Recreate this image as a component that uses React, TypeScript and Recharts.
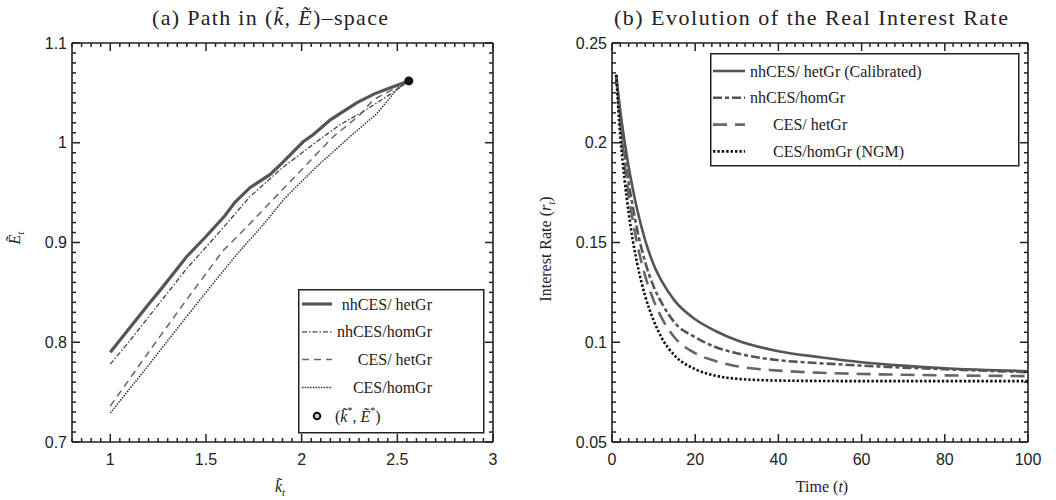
import { ComposedChart, LineChart, Line, Scatter, XAxis, YAxis, ReferenceLine } from 'recharts';

// ---- panel (a): path in (k, E) space ----
const solidK = [1, 1.1, 1.2, 1.26, 1.4, 1.5, 1.6, 1.65, 1.73, 1.834, 1.9, 2.008, 2.06, 2.15, 2.287, 2.38, 2.461, 2.56];
const solidE = [0.79, 0.814, 0.838, 0.852, 0.886, 0.906, 0.927, 0.94, 0.955, 0.968, 0.98, 1.001, 1.008, 1.023, 1.04, 1.049, 1.055, 1.062];

const dashDotK = [1, 1.1, 1.26, 1.4, 1.55, 1.73, 1.9, 2.078, 2.2, 2.32, 2.45, 2.56];
const dashDotE = [0.778, 0.801, 0.84, 0.874, 0.906, 0.946, 0.975, 1.001, 1.018, 1.031, 1.047, 1.062];

const dashedK = [1, 1.2, 1.4, 1.59, 1.7, 1.8, 1.96, 2.165, 2.305, 2.374, 2.56];
const dashedE = [0.736, 0.79, 0.843, 0.892, 0.913, 0.933, 0.965, 1.006, 1.028, 1.043, 1.062];

const dottedK = [1, 1.2, 1.4, 1.55, 1.67, 1.8, 1.91, 2.078, 2.252, 2.392, 2.496, 2.56];
const dottedE = [0.729, 0.777, 0.826, 0.862, 0.89, 0.918, 0.944, 0.976, 1.006, 1.029, 1.053, 1.062];

const steadyK = [2.56];
const steadyE = [1.062];

const kTicks = [1, 1.5, 2, 2.5, 3];
const eTicks = [0.7, 0.8, 0.9, 1, 1.1];

// ---- panel (b): real interest rate ----
const time = [1, 2, 3, 4, 5, 6, 8, 10, 12, 15, 20, 25, 30, 40, 50, 60, 70, 80, 90, 100];
const rHetGr = [0.234, 0.216, 0.201, 0.188, 0.177, 0.167, 0.151, 0.139, 0.1305, 0.121, 0.1115, 0.1055, 0.101, 0.0955, 0.0925, 0.09, 0.0883, 0.087, 0.0861, 0.0855];
const rHomGr = [0.234, 0.213, 0.195, 0.18, 0.168, 0.157, 0.14, 0.128, 0.1195, 0.11, 0.1025, 0.0975, 0.0945, 0.091, 0.0895, 0.0883, 0.0873, 0.0865, 0.0857, 0.085];
const rCesHet = [0.234, 0.21, 0.19, 0.174, 0.161, 0.15, 0.133, 0.121, 0.112, 0.1025, 0.0945, 0.0905, 0.088, 0.0858, 0.0847, 0.0841, 0.0837, 0.0834, 0.0832, 0.083];
const rNgm = [0.234, 0.203, 0.182, 0.165, 0.151, 0.14, 0.123, 0.111, 0.102, 0.0935, 0.0865, 0.0832, 0.0817, 0.0808, 0.0806, 0.0805, 0.0805, 0.0805, 0.0805, 0.0805];

const tTicks = [0, 20, 40, 60, 80, 100];
const rTicks = [0.05, 0.1, 0.15, 0.2, 0.25];

const zip = (xs: number[], ys: number[]) => xs.map((k, i) => ({ k, E: ys[i] }));

const solidData = zip(solidK, solidE);
const dashDotData = zip(dashDotK, dashDotE);
const dashedData = zip(dashedK, dashedE);
const dottedData = zip(dottedK, dottedE);
const steadyData = zip(steadyK, steadyE);

const rateRows = time.map((t, i) => ({ t, het: rHetGr[i], hom: rHomGr[i], ces: rCesHet[i], ngm: rNgm[i] }));

// minor tick positions between the labelled ones
const minor = (from: number, to: number, step: number) => {
  const out: number[] = [];
  for (let i = 0; from + i * step <= to + 1e-9; i++) out.push(+(from + i * step).toFixed(4));
  return out;
};

const AX = '#222';
const TICK_FONT = { fontFamily: '"Liberation Sans", Arial, sans-serif', fontSize: 16, fill: '#222' };
const SERIF = '"Liberation Serif", "Times New Roman", serif';

const isMajor = (majors: number[], v: number) => majors.some((m) => Math.abs(m - v) < 1e-6);

// ticks point inwards and are mirrored on the opposite side of the frame
function xTick(majors: number[], top: number) {
  return (props: any) => {
    const { x, y, payload } = props;
    const major = isMajor(majors, payload.value);
    const len = major ? 8 : 4;
    return (
      <g>
        <line x1={x} x2={x} y1={y} y2={y - len} stroke={AX} strokeWidth={1.5} />
        <line x1={x} x2={x} y1={top} y2={top + len} stroke={AX} strokeWidth={1.5} />
        {major && (
          <text x={x} y={y + 23} textAnchor="middle" {...TICK_FONT}>
            {payload.value}
          </text>
        )}
      </g>
    );
  };
}

function yTick(majors: number[], right: number) {
  return (props: any) => {
    const { x, y, payload } = props;
    const major = isMajor(majors, payload.value);
    const len = major ? 8 : 4;
    return (
      <g>
        <line x1={x} x2={x + len} y1={y} y2={y} stroke={AX} strokeWidth={1.5} />
        <line x1={right} x2={right - len} y1={y} y2={y} stroke={AX} strokeWidth={1.5} />
        {major && (
          <text x={x - 5} y={y} textAnchor="end" dominantBaseline="central" {...TICK_FONT}>
            {payload.value}
          </text>
        )}
      </g>
    );
  };
}

const leftStyles = [
  { label: 'nhCES/ hetGr', stroke: '#555', width: 3.2, dash: undefined as string | undefined },
  { label: 'nhCES/homGr', stroke: '#444', width: 1.3, dash: '5 2 1.5 2' },
  { label: 'CES/ hetGr', stroke: '#666', width: 1.5, dash: '7 5' },
  { label: 'CES/homGr', stroke: '#333', width: 1.5, dash: '1.5 1.2' },
];

const rightStyles = [
  { label: 'nhCES/ hetGr (Calibrated)', stroke: '#555', width: 2.6, dash: undefined as string | undefined, indent: 0 },
  { label: 'nhCES/homGr', stroke: '#555', width: 2.6, dash: '9 3 4 3', indent: 0 },
  { label: 'CES/ hetGr', stroke: '#666', width: 2.6, dash: '14 8', indent: 23 },
  { label: 'CES/homGr (NGM)', stroke: '#111', width: 2.6, dash: '2.4 2', indent: 23 },
];

const abs = (l: number, t: number): React.CSSProperties => ({ position: 'absolute', left: l, top: t });

export default function App() {
  return (
    <div style={abs(0, 0)}>
      {/* titles and axis labels */}
      <svg style={abs(0, 0)} width={1056} height={500}>
        <rect width={1056} height={500} fill="#fff" />
        <text x={152} y={25} fontFamily={SERIF} fontSize={22} fill="#222" textLength={236} lengthAdjust="spacing">
          (a) Path in (<tspan fontStyle="italic">k̃</tspan>, <tspan fontStyle="italic">Ẽ</tspan>)–space
        </text>
        <text x={614} y={25} fontFamily={SERIF} fontSize={22} fill="#222" textLength={394} lengthAdjust="spacing">
          (b) Evolution of the Real Interest Rate
        </text>
        <text transform="translate(20,238) rotate(-90)" textAnchor="middle" fontFamily={SERIF} fontSize={16} fontStyle="italic" fill="#222">
          Ẽ<tspan fontSize={11} dy={4}>t</tspan>
        </text>
        <text x={280} y={492} textAnchor="middle" fontFamily={SERIF} fontSize={16} fontStyle="italic" fill="#222">
          k̃<tspan fontSize={11} dy={4}>t</tspan>
        </text>
        <text transform="translate(551,249) rotate(-90)" textAnchor="middle" fontFamily={SERIF} fontSize={16} fill="#222">
          Interest Rate (<tspan fontStyle="italic">r</tspan><tspan fontSize={11} dy={4} fontStyle="italic">t</tspan><tspan dy={-4}>)</tspan>
        </text>
        <text x={822} y={492} textAnchor="middle" fontFamily={SERIF} fontSize={16} fill="#222">
          Time (<tspan fontStyle="italic">t</tspan>)
        </text>
      </svg>

      {/* panel (a) */}
      <div style={abs(0, 0)}>
        <ComposedChart width={528} height={500} margin={{ top: 43, right: 35, bottom: 28, left: 32 }}>
          <XAxis
            type="number"
            dataKey="k"
            domain={[0.8, 3]}
            ticks={minor(0.8, 3, 0.05)}
            interval={0}
            tickSize={0}
            tickMargin={0}
            tickLine={false}
            tick={xTick(kTicks, 43)}
            axisLine={{ stroke: AX, strokeWidth: 1.6 }}
            height={30}
            allowDataOverflow
          />
          <YAxis
            type="number"
            dataKey="E"
            domain={[0.7, 1.1]}
            ticks={minor(0.7, 1.1, 0.01)}
            interval={0}
            tickSize={0}
            tickMargin={0}
            tickLine={false}
            tick={yTick(eTicks, 493)}
            axisLine={{ stroke: AX, strokeWidth: 1.6 }}
            width={40}
            allowDataOverflow
          />
          <ReferenceLine y={1.1} stroke={AX} strokeWidth={1.6} />
          <ReferenceLine x={3} stroke={AX} strokeWidth={1.6} />
          {[solidData, dashDotData, dashedData, dottedData].map((d, i) => (
            <Line
              key={i}
              data={d}
              dataKey="E"
              type="linear"
              stroke={leftStyles[i].stroke}
              strokeWidth={leftStyles[i].width}
              strokeDasharray={leftStyles[i].dash}
              dot={false}
              isAnimationActive={false}
            />
          ))}
          <Scatter data={steadyData} dataKey="E" fill="#111" isAnimationActive={false} />
        </ComposedChart>
      </div>

      {/* panel (b) */}
      <div style={abs(528, 0)}>
        <LineChart width={528} height={500} data={rateRows} margin={{ top: 43, right: 28, bottom: 28, left: 34 }}>
          <XAxis
            type="number"
            dataKey="t"
            domain={[0, 100]}
            ticks={minor(0, 100, 2)}
            interval={0}
            tickSize={0}
            tickMargin={0}
            tickLine={false}
            tick={xTick(tTicks, 43)}
            axisLine={{ stroke: AX, strokeWidth: 1.6 }}
            height={30}
          />
          <YAxis
            type="number"
            ticks={minor(0.05, 0.25, 0.005)}
            domain={[0.05, 0.25]}
            interval={0}
            tickSize={0}
            tickMargin={0}
            tickLine={false}
            tick={yTick(rTicks, 500)}
            axisLine={{ stroke: AX, strokeWidth: 1.6 }}
            width={50}
          />
          <ReferenceLine y={0.25} stroke={AX} strokeWidth={1.6} />
          <ReferenceLine x={100} stroke={AX} strokeWidth={1.6} />
          {['het', 'hom', 'ces', 'ngm'].map((key, i) => (
            <Line
              key={key}
              dataKey={key}
              type="monotone"
              stroke={rightStyles[i].stroke}
              strokeWidth={rightStyles[i].width}
              strokeDasharray={rightStyles[i].dash}
              dot={false}
              isAnimationActive={false}
            />
          ))}
        </LineChart>
      </div>

      {/* legend (a) */}
      <svg style={abs(298, 289)} width={187} height={145}>
        <rect x={0.75} y={0.75} width={185} height={143} fill="#fff" stroke={AX} strokeWidth={1.5} />
        {leftStyles.map((s, i) => {
          const y = 15 + i * 27.8;
          return (
            <g key={s.label}>
              <line x1={4} x2={34} y1={y} y2={y} stroke={s.stroke} strokeWidth={s.width} strokeDasharray={s.dash} />
              <text x={134} y={y} textAnchor="end" dominantBaseline="central" fontFamily={SERIF} fontSize={16} fill="#222">
                {s.label}
              </text>
            </g>
          );
        })}
        <circle cx={19} cy={127} r={3.3} fill="#ccc" stroke="#111" strokeWidth={2} />
        <text x={37} y={127} dominantBaseline="central" fontFamily={SERIF} fontSize={16} fill="#222">
          (<tspan fontStyle="italic">k̃</tspan><tspan fontSize={10} dy={-6}>*</tspan><tspan dy={6}>, </tspan><tspan fontStyle="italic">Ẽ</tspan><tspan fontSize={10} dy={-6}>*</tspan><tspan dy={6}>)</tspan>
        </text>
      </svg>

      {/* legend (b) */}
      <svg style={abs(710, 53)} width={310} height={114}>
        <rect x={0.75} y={0.75} width={308} height={112} fill="#fff" stroke={AX} strokeWidth={1.5} />
        {rightStyles.map((s, i) => {
          const y = 18 + i * 26.8;
          return (
            <g key={s.label}>
              <line x1={3} x2={35} y1={y} y2={y} stroke={s.stroke} strokeWidth={s.width} strokeDasharray={s.dash} />
              <text x={40 + s.indent} y={y} dominantBaseline="central" fontFamily={SERIF} fontSize={16} fill="#222">
                {s.label}
              </text>
            </g>
          );
        })}
      </svg>
    </div>
  );
}
